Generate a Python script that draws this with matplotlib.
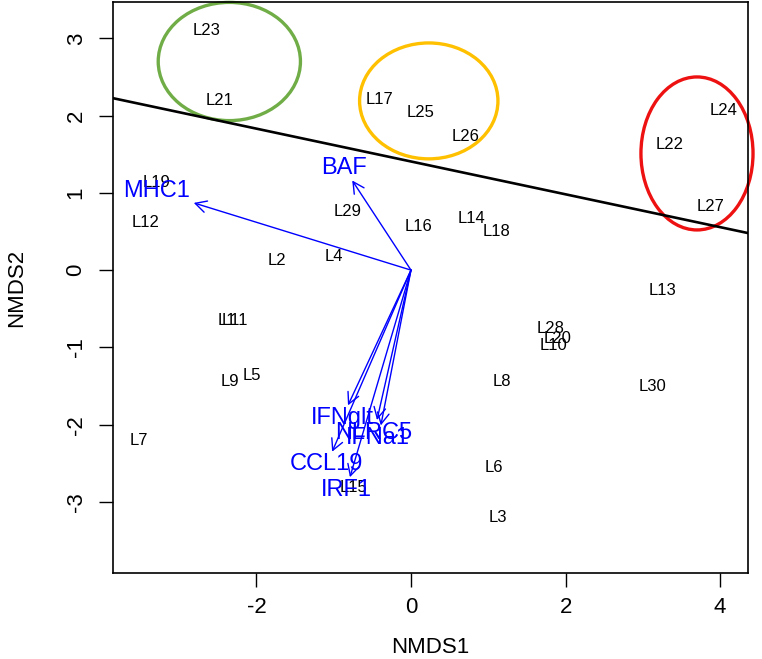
import numpy as np
import matplotlib.pyplot as plt
from matplotlib.patches import Ellipse

plt.rcParams['font.family'] = ['Liberation Sans', 'DejaVu Sans']
plt.rcParams['axes.unicode_minus'] = False

# NMDS site scores
site_labels = ['L1', 'L2', 'L3', 'L4', 'L5', 'L6', 'L7', 'L8', 'L9', 'L10',
               'L11', 'L12', 'L13', 'L14', 'L15', 'L16', 'L17', 'L18', 'L19', 'L20',
               'L21', 'L22', 'L23', 'L24', 'L25', 'L26', 'L27', 'L28', 'L29', 'L30']
site_x = [-2.38, -1.73, 1.13, -1.00, -2.06, 1.07, -3.52, 1.18, -2.34, 1.84,
          -2.28, -3.44, 3.25, 0.78, -0.75, 0.10, -0.41, 1.10, -3.29, 1.90,
          -2.47, 3.35, -2.65, 4.04, 0.13, 0.70, 3.88, 1.81, -0.82, 3.12]
site_y = [-0.65, 0.12, -3.20, 0.18, -1.37, -2.55, -2.21, -1.44, -1.44, -0.98,
          -0.65, 0.61, -0.26, 0.67, -2.81, 0.56, 2.21, 0.50, 1.13, -0.89,
          2.19, 1.62, 3.10, 2.06, 2.04, 1.73, 0.82, -0.75, 0.76, -1.50]

# envfit vectors (arrow tips)
vec_labels = ['MHC1', 'BAF', 'IFNglt', 'NLRC5', 'IFNa1', 'CCL19', 'IRF1']
vec_x = [-2.81, -0.76, -0.815, -0.44, -0.39, -1.02, -0.79]
vec_y = [0.87, 1.16, -1.75, -1.94, -2.01, -2.35, -2.68]

# separating line  y = a + b*x
line_a = 1.406
line_b = -0.2125

# circled groups
grp_cx = [-2.35, 0.23, 3.70]
grp_cy = [2.70, 2.19, 1.51]
grp_w = [1.84, 1.79, 1.45]
grp_h = [1.53, 1.50, 1.98]
grp_col = ['#70AD47', '#FFC000', '#EE1111']

fig = plt.figure(figsize=(7.62, 6.59), dpi=100)
ax = fig.add_axes([113/762, 1 - 573/659, 635/762, 571/659])
ax.set_xlim(-3.855, 4.36)
ax.set_ylim(-3.92, 3.47)

for lab, x, y in zip(site_labels, site_x, site_y):
    ax.text(x, y, lab, fontsize=12, ha='center', va='center', color='black')

ax.axline((0, line_a), slope=line_b, color='black', lw=1.9)

for cx, cy, w, h, c in zip(grp_cx, grp_cy, grp_w, grp_h, grp_col):
    ax.add_patch(Ellipse((cx, cy), w, h, fill=False, edgecolor=c, lw=2.4, clip_on=False))

# arrows + labels placed like vegan's ordiArrowTextXY
renderer = fig.canvas.get_renderer()
origin = ax.transData.transform((0, 0))
fs = 17
for lab, x, y in zip(vec_labels, vec_x, vec_y):
    ax.annotate('', xy=(x, y), xytext=(0, 0),
                arrowprops=dict(arrowstyle='->,head_length=0.8,head_width=0.42',
                                color='#0000FF', lw=1.0, shrinkA=0, shrinkB=0,
                                mutation_scale=10))
    t = ax.text(0, 0, lab, fontsize=fs, color='#0000FF', ha='center', va='center')
    w = t.get_window_extent(renderer).width
    h = fs * 100 / 72 * 0.72
    tip = ax.transData.transform((x, y))
    vx, vy = tip - origin
    offx = np.sign(vx) * (w / 2 + h / 4)
    offy = 0.75 * h * np.sign(vy)
    b = vy / vx
    move = offy / b
    if np.isfinite(move) and abs(move) <= abs(offx):
        offx = move
    else:
        offy = b * offx
    t.set_position(ax.transData.inverted().transform((tip[0] + offx, tip[1] + offy)))

ax.set_xticks([-2, 0, 2, 4])
ax.set_yticks([-3, -2, -1, 0, 1, 2, 3])
ax.tick_params(direction='out', length=10, width=1, labelsize=16, pad=7)
ax.tick_params(axis='y', labelrotation=90, pad=9)
for lbl in ax.get_yticklabels():
    lbl.set_va('center')
for s in ax.spines.values():
    s.set_linewidth(1.2)
ax.set_xlabel('NMDS1', fontsize=16, labelpad=14)
ax.set_ylabel('NMDS2', fontsize=16, labelpad=28)

fig.savefig('out.png', dpi=100)
